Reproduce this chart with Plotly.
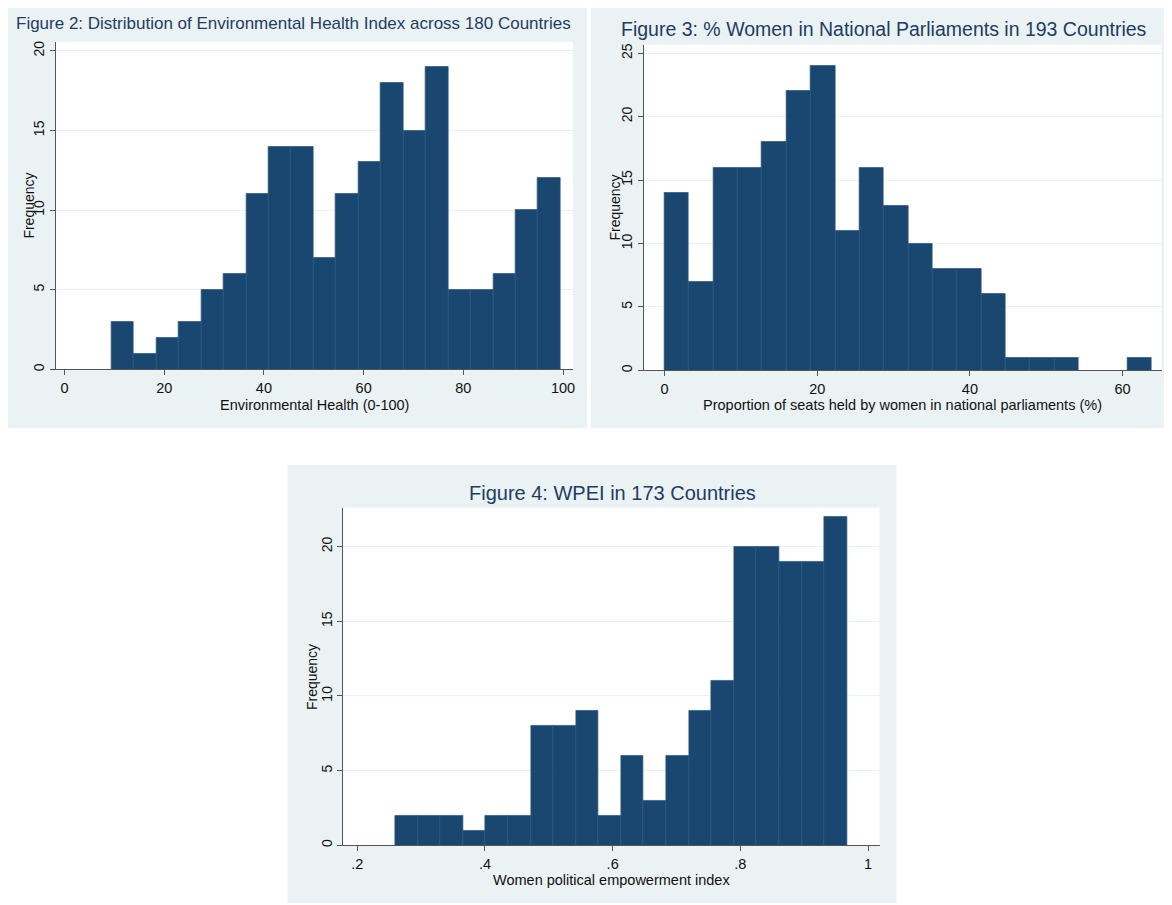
import plotly.graph_objects as go

W, H = 1172, 905
OFF = 8  # page body margin in the browser

# ---- Data ----
env_counts = [3, 1, 2, 3, 5, 6, 11, 14, 14, 7, 11, 13, 18, 15, 19, 5, 5, 6, 10, 12]
env_start = 9.4
env_width = 4.503

parl_counts = [14, 7, 16, 16, 18, 22, 24, 11, 16, 13, 10, 8, 8, 6, 1, 1, 1, 0, 0, 1]
parl_start = 0.0
parl_width = 3.19

wpei_counts = [2, 2, 2, 1, 2, 2, 8, 8, 9, 2, 6, 3, 6, 9, 11, 20, 20, 19, 19, 22]
wpei_start = 0.2595
wpei_width = 0.03537

env_ticks = [0, 20, 40, 60, 80, 100]
env_ticklabels = ["0", "20", "40", "60", "80", "100"]
parl_ticks = [0, 20, 40, 60]
parl_ticklabels = ["0", "20", "40", "60"]
wpei_ticks = [0.2, 0.4, 0.6, 0.8, 1.0]
wpei_ticklabels = [".2", ".4", ".6", ".8", "1"]
y_ticks_20 = [0, 5, 10, 15, 20]
y_ticks_25 = [0, 5, 10, 15, 20, 25]

titles = [
    "Figure 2: Distribution of Environmental Health Index across 180 Countries",
    "Figure 3: % Women in National Parliaments in 193 Countries",
    "Figure 4: WPEI in 173 Countries",
]
xtitles = [
    "Environmental Health (0-100)",
    "Proportion of seats held by women in national parliaments (%)",
    "Women political empowerment index",
]

BAR = "#1a476f"
BG = "#eaf2f3"
GRID = "#eaf2f3"
TITLE_C = "#1e3c64"
FONT = "Liberation Sans, Arial, sans-serif"


def centers(start, width, n):
    return [start + width * (i + 0.5) for i in range(n)]


def xd(px):
    return (px - OFF) / W


def yd(py):
    return 1 - (py - OFF) / H


fig = go.Figure()

panels = [
    dict(counts=env_counts, start=env_start, width=env_width, xa="x", ya="y",
         xr=[-1.8, 102.0], yr=[0, 20.56], xt=env_ticks, xtl=env_ticklabels, yt=y_ticks_20,
         dom_x=[55.6, 574], dom_y=[369, 40], bg=[4, 2, 588, 428],
         title_x=294, title_y=22, title_size=17,
         xtitle_y=404.5, ytitle_x=29),
    dict(counts=parl_counts, start=parl_start, width=parl_width, xa="x2", ya="y2",
         xr=[-2.76, 65.1], yr=[0, 25.66], xt=parl_ticks, xtl=parl_ticklabels, yt=y_ticks_25,
         dom_x=[644.6, 1163.5], dom_y=[370, 43], bg=[592, 2, 1172, 428],
         title_x=885, title_y=27, title_size=19.5,
         xtitle_y=404.5, ytitle_x=616),
    dict(counts=wpei_counts, start=wpei_start, width=wpei_width, xa="x3", ya="y3",
         xr=[0.178, 1.018], yr=[0, 22.6], xt=wpei_ticks, xtl=wpei_ticklabels, yt=y_ticks_20,
         dom_x=[343.8, 881], dom_y=[847, 508], bg=[288, 465, 898, 905],
         title_x=614, title_y=493, title_size=20,
         xtitle_y=882, ytitle_x=312),
]

shapes = []
annotations = []
for i, p in enumerate(panels):
    n = len(p["counts"])
    fig.add_trace(go.Bar(
        x=centers(p["start"], p["width"], n),
        y=p["counts"],
        width=[p["width"]] * n,
        marker=dict(color=BAR, line=dict(color="#2a5682", width=0.7)),
        xaxis=p["xa"], yaxis=p["ya"],
        showlegend=False, hoverinfo="x+y",
    ))
    sfx = "" if i == 0 else str(i + 1)
    axis_common = dict(showline=True, linecolor="#555555", linewidth=1,
                       ticks="outside", ticklen=5, tickcolor="#555555",
                       zeroline=False)
    fig.layout["xaxis" + sfx] = dict(
        domain=[xd(p["dom_x"][0]), xd(p["dom_x"][1])],
        range=p["xr"], tickvals=p["xt"], ticktext=p["xtl"],
        tickfont=dict(family=FONT, size=14.5, color="#111111"),
        showgrid=False, anchor="y" + sfx, **axis_common)
    fig.layout["yaxis" + sfx] = dict(
        domain=[yd(p["dom_y"][0]), yd(p["dom_y"][1])],
        range=p["yr"], tickvals=p["yt"], tickangle=-90,
        tickfont=dict(family=FONT, size=14, color="#111111"),
        showgrid=True, gridcolor=GRID, gridwidth=1.2,
        anchor="x" + sfx, **axis_common)
    b = p["bg"]
    shapes.append(dict(type="rect", xref="paper", yref="paper", layer="below",
                       x0=xd(b[0]), x1=xd(b[2]), y0=yd(b[3]), y1=yd(b[1]),
                       fillcolor=BG, line=dict(width=0)))
    shapes.append(dict(type="rect", xref="paper", yref="paper", layer="below",
                       x0=xd(p["dom_x"][0]), x1=xd(p["dom_x"][1]),
                       y0=yd(p["dom_y"][0]), y1=yd(p["dom_y"][1]),
                       fillcolor="white", line=dict(width=0)))
    annotations.append(dict(text=titles[i], xref="paper", yref="paper",
                            x=xd(p["title_x"]), y=yd(p["title_y"]),
                            xanchor="center", yanchor="middle", showarrow=False,
                            font=dict(family=FONT, size=p["title_size"], color=TITLE_C)))
    cx = (p["dom_x"][0] + p["dom_x"][1]) / 2
    annotations.append(dict(text=xtitles[i], xref="paper", yref="paper",
                            x=xd(cx), y=yd(p["xtitle_y"]),
                            xanchor="center", yanchor="middle", showarrow=False,
                            font=dict(family=FONT, size=14.5, color="#111111")))
    cy = (p["dom_y"][0] + p["dom_y"][1]) / 2
    annotations.append(dict(text="Frequency", xref="paper", yref="paper",
                            x=xd(p["ytitle_x"]), y=yd(cy), textangle=-90,
                            xanchor="center", yanchor="middle", showarrow=False,
                            font=dict(family=FONT, size=14, color="#111111")))

fig.update_layout(
    width=W, height=H, margin=dict(l=0, r=0, t=0, b=0),
    paper_bgcolor="white", plot_bgcolor="rgba(0,0,0,0)",
    bargap=0, shapes=shapes, annotations=annotations,
)

fig.write_html("out.html")
